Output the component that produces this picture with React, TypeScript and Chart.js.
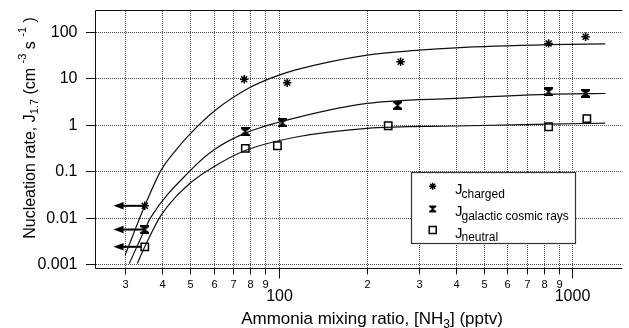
import React, { useEffect, useRef } from 'react';
import { Chart, registerables } from 'chart.js';

Chart.register(...registerables);

const FONT = '"Liberation Sans", Arial, Helvetica, sans-serif';

// ---- measured data points ----
const chargedX = [76.3, 106.9, 260, 830, 1109];
const chargedY = [9.5, 8.0, 22.6, 56, 78];
const gcrX = [76.9, 102.8, 254, 830, 1109];
const gcrY = [0.71, 1.1, 2.6, 5.1, 4.73];
const neutralX = [77, 99, 236, 830, 1120];
const neutralY = [0.31, 0.353, 0.95, 0.905, 1.35];

// upper-limit points drawn with leftward arrows
const limitX = [35, 35, 35];
const limitTipX = [27.4, 27.4, 27.4];
const limitY = [0.0181, 0.0056, 0.00238];

// ---- fitted curves ----
const chargedFitX = [30, 35, 39.8, 44.7, 49.5, 61, 78.9, 97, 116, 200, 300, 400, 830, 1294];
const chargedFitY = [0.00158, 0.0181, 0.106, 0.286, 0.6, 2.07, 6.07, 10.8, 15.5, 31.5, 40, 45, 52.5, 55];
const gcrFitX = [31, 35, 36.6, 50.2, 60.1, 76.9, 116, 200, 400, 830, 1294];
const gcrFitY = [0.00104, 0.0056, 0.01, 0.106, 0.286, 0.66, 1.44, 2.88, 3.7, 4.5, 4.7];
const neutralFitX = [33, 35, 39.8, 50.2, 60.1, 77, 116, 200, 400, 830, 1294];
const neutralFitY = [0.00104, 0.00238, 0.0114, 0.057, 0.125, 0.28, 0.552, 0.84, 0.94, 1.03, 1.08];

// ---- axes ----
const xMin = 23.88;
const xMax = 1479;
const yMin = 0.000794;
const yMax = 278.6;
const yTicks = [0.001, 0.01, 0.1, 1, 10, 100];
const yTickLabels = ['0.001', '0.01', '0.1', '1', '10', '100'];
const xMinorTicks = [30, 40, 50, 60, 70, 80, 90, 200, 300, 400, 500, 600, 700, 800, 900];
const xMinorLabels = ['3', '4', '5', '6', '7', '8', '9', '2', '3', '4', '5', '6', '7', '8', '9'];
const xMajorTicks = [100, 1000];
const xMajorLabels = ['100', '1000'];

const legendNames = ['charged', 'galactic cosmic rays', 'neutral'];

function pts(xs: number[], ys: number[]) {
  return xs.map((x, i) => ({ x, y: ys[i] }));
}

function drawHourglass(g: CanvasRenderingContext2D, cx: number, cy: number, w: number, h: number) {
  const l = cx - w / 2, r = cx + w / 2, t = cy - h / 2, b = cy + h / 2;
  const bar = Math.max(1.5, h * 0.2);
  const neck = Math.max(1, w * 0.18);
  g.beginPath();
  g.moveTo(l, t);
  g.lineTo(r, t);
  g.lineTo(r, t + bar);
  g.lineTo(cx + neck / 2, cy);
  g.lineTo(r, b - bar);
  g.lineTo(r, b);
  g.lineTo(l, b);
  g.lineTo(l, b - bar);
  g.lineTo(cx - neck / 2, cy);
  g.lineTo(l, t + bar);
  g.closePath();
  g.fillStyle = '#000';
  g.fill();
}

function makeHourglass(w: number, h: number) {
  const c = document.createElement('canvas');
  c.width = w;
  c.height = h;
  const g = c.getContext('2d')!;
  drawHourglass(g, w / 2, h / 2, w, h);
  return c;
}

function drawStar(g: CanvasRenderingContext2D, cx: number, cy: number, r: number) {
  g.beginPath();
  for (let k = 0; k < 4; k++) {
    const a = (k * Math.PI) / 4;
    g.moveTo(cx - Math.cos(a) * r, cy - Math.sin(a) * r);
    g.lineTo(cx + Math.cos(a) * r, cy + Math.sin(a) * r);
  }
  g.strokeStyle = '#000';
  g.lineWidth = 1.4;
  g.stroke();
}

type Seg = { t: string; s: number; dy?: number };

function richWidth(g: CanvasRenderingContext2D, segs: Seg[]) {
  let w = 0;
  for (const sg of segs) {
    g.font = `${sg.s}px ${FONT}`;
    w += g.measureText(sg.t).width;
  }
  return w;
}

function drawRich(g: CanvasRenderingContext2D, segs: Seg[], cx: number, y: number) {
  let x = cx - richWidth(g, segs) / 2;
  g.textAlign = 'left';
  g.textBaseline = 'alphabetic';
  for (const sg of segs) {
    g.font = `${sg.s}px ${FONT}`;
    g.fillText(sg.t, x, y + (sg.dy || 0));
    x += g.measureText(sg.t).width;
  }
}

const decorPlugin = {
  id: 'decor',
  beforeDatasetsDraw(chart: any) {
    const { ctx, chartArea: a, scales } = chart;
    const xs = scales.x, ys = scales.y;
    ctx.save();
    // dotted grid
    ctx.strokeStyle = '#4a4a4a';
    ctx.lineWidth = 1;
    ctx.setLineDash([1, 1]);
    ctx.beginPath();
    for (const v of yTicks) {
      const py = Math.round(ys.getPixelForValue(v)) + 0.5;
      ctx.moveTo(a.left, py);
      ctx.lineTo(a.right, py);
    }
    for (const v of [...xMinorTicks, ...xMajorTicks]) {
      const px = Math.round(xs.getPixelForValue(v)) + 0.5;
      ctx.moveTo(px, a.top);
      ctx.lineTo(px, a.bottom);
    }
    ctx.stroke();
    ctx.setLineDash([]);
    // arrows for upper-limit points
    ctx.strokeStyle = '#000';
    ctx.fillStyle = '#000';
    ctx.lineWidth = 2;
    for (let i = 0; i < limitY.length; i++) {
      const py = ys.getPixelForValue(limitY[i]);
      const p0 = xs.getPixelForValue(limitX[i]);
      const tip = xs.getPixelForValue(limitTipX[i]);
      const headLen = 10, headHalf = 3.8;
      ctx.beginPath();
      ctx.moveTo(p0, py);
      ctx.lineTo(tip + headLen - 1, py);
      ctx.stroke();
      ctx.beginPath();
      ctx.moveTo(tip, py);
      ctx.lineTo(tip + headLen, py - headHalf);
      ctx.lineTo(tip + headLen, py + headHalf);
      ctx.closePath();
      ctx.fill();
    }
    ctx.restore();
  },
  afterDraw(chart: any) {
    const { ctx, chartArea: a, scales } = chart;
    const xs = scales.x, ys = scales.y;
    ctx.save();
    // frame
    ctx.strokeStyle = '#111';
    ctx.lineWidth = 1;
    ctx.beginPath();
    ctx.moveTo(a.right, Math.round(a.top) - 0.5);
    ctx.lineTo(a.left - 0.5, Math.round(a.top) - 0.5);
    ctx.lineTo(a.left - 0.5, Math.round(a.bottom) - 0.5);
    ctx.lineTo(a.right, Math.round(a.bottom) - 0.5);
    ctx.stroke();
    // y ticks + labels
    ctx.fillStyle = '#000';
    ctx.font = `16px ${FONT}`;
    ctx.textAlign = 'right';
    ctx.textBaseline = 'middle';
    ctx.beginPath();
    yTicks.forEach((v, i) => {
      const py = Math.round(ys.getPixelForValue(v)) + 0.5;
      ctx.moveTo(a.left - 10, py);
      ctx.lineTo(a.left, py);
      ctx.fillText(yTickLabels[i], a.left - 18.5, py + 0.5);
    });
    // x ticks + labels
    const by = Math.round(a.bottom) - 0.5;
    ctx.textAlign = 'center';
    ctx.font = `11px ${FONT}`;
    xMinorTicks.forEach((v, i) => {
      const px = Math.round(xs.getPixelForValue(v)) + 0.5;
      ctx.moveTo(px, by);
      ctx.lineTo(px, by + 6);
      ctx.fillText(xMinorLabels[i], px, a.bottom + 16);
    });
    ctx.font = `16px ${FONT}`;
    xMajorTicks.forEach((v, i) => {
      const px = Math.round(xs.getPixelForValue(v)) + 0.5;
      ctx.moveTo(px, by);
      ctx.lineTo(px, by + 10);
      ctx.fillText(xMajorLabels[i], px, a.bottom + 27.5);
    });
    ctx.stroke();

    // x axis title
    drawRich(ctx, [
      { t: 'Ammonia mixing ratio, [NH', s: 17 },
      { t: '3', s: 12, dy: 4 },
      { t: '] (pptv)', s: 17 },
    ], 372, 324);

    // y axis title (rotated)
    ctx.save();
    ctx.translate(35, 128);
    ctx.rotate(-Math.PI / 2);
    drawRich(ctx, [
      { t: 'Nucleation rate, J', s: 16 },
      { t: '1.7', s: 11, dy: 3 },
      { t: ' (cm ', s: 16 },
      { t: '-3', s: 11, dy: -9 },
      { t: ' s ', s: 16 },
      { t: '-1', s: 11, dy: -9 },
      { t: ' )', s: 16 },
    ], 0, 0);
    ctx.restore();

    // legend
    const L = 411.5, T = 172.5, R = 575.5, B = 243.5;
    ctx.fillStyle = '#fff';
    ctx.fillRect(L, T, R - L, B - T);
    ctx.strokeStyle = '#333';
    ctx.lineWidth = 1.2;
    ctx.strokeRect(L, T, R - L, B - T);
    const mx = 432.7;
    const rowsMarker = [186.3, 209, 230];
    const rowsText = [194, 216, 237.5];
    drawStar(ctx, mx, rowsMarker[0], 3.5);
    drawHourglass(ctx, mx, rowsMarker[1], 7, 7);
    ctx.strokeStyle = '#000';
    ctx.lineWidth = 1.5;
    ctx.strokeRect(mx - 3.5, rowsMarker[2] - 3.5, 7, 7);
    ctx.fillStyle = '#000';
    ctx.textAlign = 'left';
    ctx.textBaseline = 'alphabetic';
    legendNames.forEach((name, i) => {
      ctx.font = `15px ${FONT}`;
      ctx.fillText('J', 455, rowsText[i]);
      ctx.font = `12px ${FONT}`;
      ctx.fillText(name, 461.5, rowsText[i] + 3.5);
    });
    ctx.restore();
  },
};

export default function App() {
  const ref = useRef<HTMLCanvasElement>(null);
  useEffect(() => {
    document.body.style.margin = '0';
    const canvas = ref.current!;
    const hg = makeHourglass(9, 9);
    const curve = (xs: number[], ys: number[]) => ({
      type: 'line' as const,
      data: pts(xs, ys),
      borderColor: '#111',
      borderWidth: 1.2,
      pointRadius: 0,
      fill: false,
      cubicInterpolationMode: 'monotone' as const,
    });
    const marks = (xs: number[], ys: number[], style: any, extra: any) => ({
      type: 'line' as const,
      data: pts(xs, ys),
      showLine: false,
      pointStyle: style,
      borderColor: '#000',
      backgroundColor: '#fff',
      ...extra,
    });
    const chart = new Chart(canvas, {
      type: 'line',
      data: {
        datasets: [
          curve(chargedFitX, chargedFitY),
          curve(gcrFitX, gcrFitY),
          curve(neutralFitX, neutralFitY),
          marks(chargedX, chargedY, 'star', { pointRadius: 4.2, pointBorderWidth: 1.5 }),
          marks([limitX[0]], [limitY[0]], 'star', { pointRadius: 4.2, pointBorderWidth: 1.5 }),
          marks(gcrX, gcrY, hg, { pointRadius: 5 }),
          marks([limitX[1]], [limitY[1]], hg, { pointRadius: 5 }),
          marks(neutralX, neutralY, 'rect', { pointRadius: 5.2, pointBorderWidth: 1.5, pointBackgroundColor: '#fff' }),
          marks([limitX[2]], [limitY[2]], 'rect', { pointRadius: 5.2, pointBorderWidth: 1.5, pointBackgroundColor: '#fff' }),
        ] as any,
      },
      options: {
        responsive: false,
        animation: false,
        events: [],
        layout: { padding: { left: 0, top: 11, right: 0, bottom: 0 } },
        plugins: { legend: { display: false }, tooltip: { enabled: false } },
        scales: {
          x: {
            type: 'logarithmic',
            min: xMin,
            max: xMax,
            bounds: 'data',
            grid: { display: false },
            border: { display: false },
            ticks: { display: false },
            afterFit: (s: any) => { s.height = 59; },
          },
          y: {
            type: 'logarithmic',
            min: yMin,
            max: yMax,
            bounds: 'data',
            grid: { display: false },
            border: { display: false },
            ticks: { display: false },
            afterFit: (s: any) => { s.width = 96; },
          },
        },
      } as any,
      plugins: [decorPlugin],
    });
    return () => chart.destroy();
  }, []);
  return (
    <canvas ref={ref} width={629} height={328} style={{ display: 'block', width: 629, height: 328 }} />
  );
}
